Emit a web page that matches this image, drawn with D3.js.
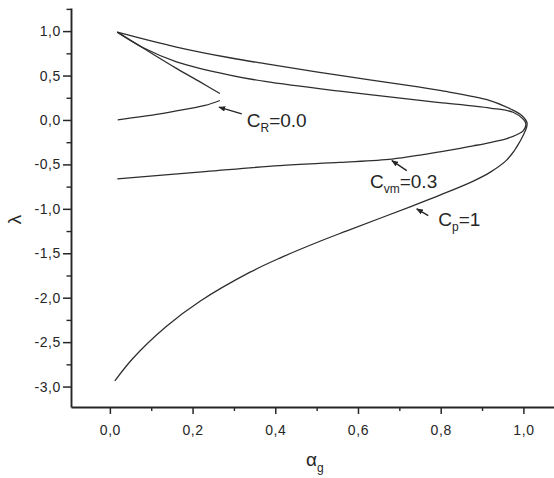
<!DOCTYPE html>
<html><head><meta charset="utf-8">
<script src="https://cdn.jsdelivr.net/npm/d3@7"></script>
<style>body{margin:0;background:#fff}svg{display:block}</style>
</head><body>
<svg id="c" width="554" height="478"></svg>
<script>
// ---- data (alpha_g, lambda) ----
const cpX  = [0.018,0.161,0.290,0.375,0.556,0.750,0.798,0.919,0.968,0.996,1.009,0.992,0.960,0.919,0.879,0.798,0.734,0.573,0.508,0.411,0.339,0.218,0.137,0.056,0.012];
const cpY  = [0.989,0.821,0.700,0.633,0.501,0.369,0.332,0.219,0.126,0.050,-0.040,-0.239,-0.449,-0.590,-0.688,-0.846,-0.963,-1.248,-1.365,-1.554,-1.713,-2.040,-2.322,-2.682,-2.937];
const cvmX = [0.018,0.081,0.161,0.290,0.375,0.556,0.750,0.798,0.919,0.975,1.000,1.006,1.000,0.985,0.960,0.919,0.879,0.847,0.798,0.750,0.682,0.556,0.411,0.230,0.018];
const cvmY = [0.989,0.813,0.655,0.505,0.434,0.324,0.220,0.195,0.134,0.087,0.006,-0.045,-0.119,-0.164,-0.209,-0.254,-0.291,-0.319,-0.358,-0.395,-0.440,-0.477,-0.513,-0.581,-0.663];
const crUpX = [0.018,0.081,0.161,0.218,0.266];
const crUpY = [0.989,0.807,0.580,0.428,0.298];
const crLoX = [0.019,0.121,0.189,0.230,0.266];
const crLoY = [0.002,0.069,0.126,0.163,0.219];

const xTicks = [0,0.2,0.4,0.6,0.8,1.0];
const xMinor = [0.1,0.3,0.5,0.7,0.9];
const yTicks = [-3,-2.5,-2,-1.5,-1,-0.5,0,0.5,1];
const yMinor = [-2.75,-2.25,-1.75,-1.25,-0.75,-0.25,0.25,0.75,1.25];

// annotations
const annMain = ["C","C","C"];
const annSub  = ["R","vm","p"];
const annVal  = ["=0.0","=0.3","=1"];
const annX = [0.331,0.629,0.794];
const annY = [-0.074,-0.765,-1.189];
const arrFromX = [0.319,0.718,0.770];
const arrFromY = [0.069,-0.570,-1.076];
const arrToX   = [0.264,0.682,0.742];
const arrToY   = [0.144,-0.457,-1.001];

// ---- drawing ----
const svg = d3.select("#c");
const x = d3.scaleLinear().domain([-0.094,1.074]).range([71,554]);
const y = d3.scaleLinear().domain([-3.23,1.26]).range([407,8]);
const FONT = "'Liberation Sans', Arial, sans-serif";
const ink = "#262626";
const fmt = d => d.toFixed(1).replace(".", ",").replace("\u2212","-");

// minor ticks
svg.append("g").attr("transform","translate(71,0)")
  .call(d3.axisLeft(y).tickValues(yMinor).tickSize(4.5).tickSizeOuter(0).tickFormat(""))
  .call(g=>g.select(".domain").remove())
  .call(g=>g.selectAll("line").attr("stroke",ink).attr("stroke-width",1.4));
svg.append("g").attr("transform","translate(0,407)")
  .call(d3.axisBottom(x).tickValues(xMinor).tickSize(4).tickSizeOuter(0).tickFormat(""))
  .call(g=>g.select(".domain").remove())
  .call(g=>g.selectAll("line").attr("stroke",ink).attr("stroke-width",1.4));

// major axes
const yAx = svg.append("g").attr("transform","translate(71,0)")
  .call(d3.axisLeft(y).tickValues(yTicks).tickSize(8).tickSizeOuter(0).tickPadding(2).tickFormat(fmt));
const xAx = svg.append("g").attr("transform","translate(0,407)")
  .call(d3.axisBottom(x).tickValues(xTicks).tickSize(7).tickSizeOuter(0).tickPadding(11).tickFormat(fmt));
[yAx,xAx].forEach(a=>{
  a.select(".domain").attr("stroke",ink).attr("stroke-width",1.9);
  a.selectAll(".tick line").attr("stroke",ink).attr("stroke-width",1.5);
  a.selectAll(".tick text").attr("fill",ink).style("font-family",FONT).style("font-size","14px").style("letter-spacing","0.6px");
});

// curves
const line = d3.line().x(d=>x(d[0])).y(d=>y(d[1])).curve(d3.curveCatmullRom.alpha(0.5));
const series = [[cpX,cpY],[cvmX,cvmY],[crUpX,crUpY],[crLoX,crLoY]];
svg.append("g").selectAll("path").data(series).join("path")
  .attr("d", s => line(s[0].map((v,i)=>[v,s[1][i]])))
  .attr("fill","none").attr("stroke","#2e2e2e").attr("stroke-width",1.3)
  .attr("stroke-linejoin","round");

// arrows
svg.append("defs").append("marker").attr("id","ah")
  .attr("viewBox","0 0 10 8").attr("refX",9).attr("refY",4)
  .attr("markerWidth",7).attr("markerHeight",5.5).attr("markerUnits","userSpaceOnUse")
  .attr("orient","auto")
  .append("path").attr("d","M0,0 L10,4 L0,8 Z").attr("fill",ink);
svg.append("g").selectAll("line").data(arrFromX).join("line")
  .attr("x1",(d,i)=>x(d)).attr("y1",(d,i)=>y(arrFromY[i]))
  .attr("x2",(d,i)=>x(arrToX[i])).attr("y2",(d,i)=>y(arrToY[i]))
  .attr("stroke",ink).attr("stroke-width",1.4).attr("marker-end","url(#ah)");

// annotation labels
const ann = svg.append("g").selectAll("text").data(annMain).join("text")
  .attr("x",(d,i)=>x(annX[i])).attr("y",(d,i)=>y(annY[i]))
  .attr("fill",ink).style("font-family",FONT).style("font-size","19px");
ann.append("tspan").text(d=>d);
ann.append("tspan").attr("dy",5).style("font-size","12px").text((d,i)=>annSub[i]);
ann.append("tspan").attr("dy",-5).text((d,i)=>annVal[i]);

// axis titles
svg.append("text").attr("transform","translate(21,219.5) rotate(-90)")
  .attr("text-anchor","middle").attr("fill",ink)
  .style("font-family",FONT).style("font-size","19px").text("λ");
const xt = svg.append("text").attr("x",306).attr("y",466).attr("fill",ink)
  .style("font-family",FONT).style("font-size","19px");
xt.append("tspan").text("α");
xt.append("tspan").attr("dy",6).style("font-size","12px").text("g");
</script>
</body></html>
